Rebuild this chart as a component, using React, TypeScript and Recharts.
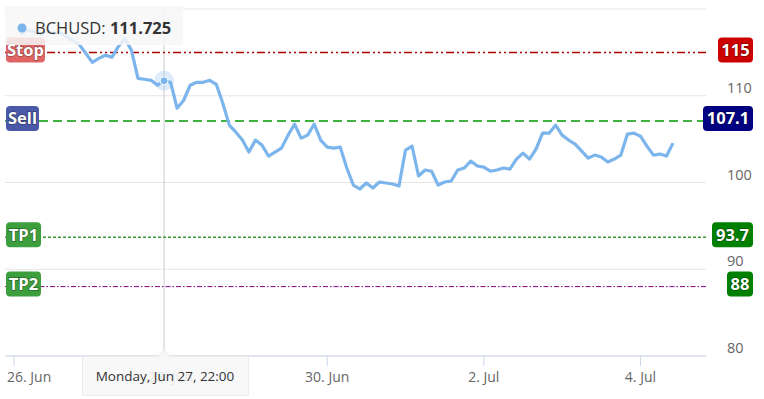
import React from "react";
import {
  LineChart,
  Line,
  XAxis,
  YAxis,
  CartesianGrid,
  ReferenceLine,
  ReferenceDot,
} from "recharts";

// hours since 26 Jun 00:00
const hours = [
  2, 4, 6, 8, 10, 12, 14, 16, 18, 20, 22, 24, 26, 28, 30, 32, 34, 36, 38, 40,
  42, 44, 46, 48, 50, 52, 54, 56, 58, 60, 62, 64, 66, 68, 70, 72, 74, 76, 78, 80,
  82, 84, 86, 88, 90, 92, 94, 96, 98, 100, 102, 104, 106, 108, 110, 112, 114, 116, 118, 120,
  122, 124, 126, 128, 130, 132, 134, 136, 138, 140, 142, 144, 146, 148, 150, 152, 154, 156, 158, 160,
  162, 164, 166, 168, 170, 172, 174, 176, 178, 180, 182, 184, 186, 188, 190, 192, 194, 196, 198, 200,
  202,
];

const prices = [
  117.07, 117.53, 117.41, 117.07, 117.41, 117.18, 117.3, 116.84, 116.38, 115.92,
  114.89, 113.85, 114.31, 114.66, 114.43, 115.69, 116.61, 115.23, 112.01, 111.9,
  111.78, 111.21, 111.725, 111.55, 108.56, 109.48, 111.21, 111.55, 111.55, 111.78,
  111.32, 109.14, 106.61, 105.8, 104.89, 103.51, 104.89, 104.31, 103.05, 103.51,
  103.97, 105.46, 106.72, 105.11, 105.46, 106.72, 104.89, 104.08, 103.97, 104.08,
  101.67, 99.71, 99.25, 99.94, 99.37, 100.06, 99.94, 99.83, 99.6, 103.74,
  104.2, 100.75, 101.44, 101.3, 99.71, 100.06, 100.17, 101.44, 101.67, 102.47,
  101.9, 101.78, 101.3, 101.44, 101.67, 101.55, 102.7, 103.39, 102.7, 103.85,
  105.69, 105.69, 106.61, 105.46, 104.89, 104.43, 103.62, 102.82, 103.16, 102.93,
  102.36, 102.7, 103.16, 105.57, 105.69, 105.34, 104.2, 103.16, 103.28, 103.05,
  104.54,
];

const xTicks = [0, 48, 96, 144, 192];
const xTickLabels = ["26. Jun", "28. Jun", "30. Jun", "2. Jul", "4. Jul"];
const yTicks = [80, 90, 100, 110, 120];

const levelNames = ["Stop", "Sell", "TP1", "TP2"];
const levelValues = [115, 107.1, 93.7, 88];

const seriesName = "BCHUSD";
const hoverHour = 46;
const hoverLabel = "Monday, Jun 27, 22:00";

const LEVEL_STYLE = [
  { line: "#aa0000", dash: "8 3 2 3 2 3", width: 1.5, left: "#e06666", right: "#cc0000", lw: 39, rw: 35 },
  { line: "#009900", dash: "9 5", width: 1.5, left: "#4a5aa8", right: "#000080", lw: 33, rw: 50 },
  { line: "#3a9a3a", dash: "3 2", width: 1.5, left: "#3d9e3d", right: "#008000", lw: 35, rw: 41 },
  { line: "#800080", dash: "5 2 1.5 2", width: 1, left: "#3d9e3d", right: "#008000", lw: 35, rw: 26 },
];

const FONT = "'Open Sans', 'DejaVu Sans', sans-serif";
const LINE_COLOR = "#7cb5ec";

const data = hours.map((t, i) => ({ t, price: prices[i] }));
const hoverPrice = prices[hours.indexOf(hoverHour)];

function LevelBadges(props: any) {
  const { viewBox, idx } = props;
  if (!viewBox) return null;
  const s = LEVEL_STYLE[idx];
  const y = viewBox.y;
  const left = viewBox.x + 1;
  const rightEdge = viewBox.x + viewBox.width + 47;
  const h = 25;
  const top = y - 15;
  const textStyle = {
    fontFamily: FONT,
    fontSize: 16.5,
    fontWeight: 700,
    fill: "#fff",
    stroke: "rgba(0,0,0,0.35)",
    strokeWidth: 1.5,
    paintOrder: "stroke" as const,
  };
  return (
    <g>
      <rect x={left} y={top} width={s.lw} height={h} rx={4} fill={s.left} />
      <text x={left + s.lw / 2} y={top + h / 2 + 6} textAnchor="middle" style={textStyle}>
        {levelNames[idx]}
      </text>
      <rect x={rightEdge - s.rw} y={top} width={s.rw} height={h} rx={4} fill={s.right} />
      <text x={rightEdge - s.rw / 2} y={top + h / 2 + 6} textAnchor="middle" style={textStyle}>
        {String(levelValues[idx])}
      </text>
    </g>
  );
}

function XTick(props: any) {
  const { x, y, payload, index } = props;
  const i = xTicks.indexOf(payload.value);
  const first = index === 0;
  return (
    <text
      x={first ? x - 7 : x}
      y={y + 14}
      textAnchor={first ? "start" : "middle"}
      fill="#666"
      style={{ fontFamily: FONT, fontSize: 14 }}
    >
      {xTickLabels[i]}
    </text>
  );
}

function YTick(props: any) {
  const { x, y, payload } = props;
  if (payload.value > 110) return null;
  return (
    <text x={x + 13} y={y - 3} textAnchor="start" fill="#666" style={{ fontFamily: FONT, fontSize: 14.5 }}>
      {payload.value}
    </text>
  );
}

export default function App() {
  return (
    <div style={{ position: "absolute", left: 0, top: 0, width: 764, height: 399, background: "#fff", fontFamily: FONT }}>
      <LineChart width={764} height={399} data={data} margin={{ top: 9, right: 0, bottom: 0, left: 5 }}>
        <CartesianGrid stroke="#e6e6e6" vertical={false} />
        <XAxis
          dataKey="t"
          type="number"
          domain={[-2.76, 212.1]}
          ticks={xTicks}
          height={43}
          axisLine={{ stroke: "#ccd6eb" }}
          tickLine={{ stroke: "#ccd6eb" }}
          tickSize={10}
          tick={<XTick />}
          interval={0}
        />
        <YAxis
          orientation="right"
          domain={[80, 120]}
          ticks={yTicks}
          width={58}
          axisLine={false}
          tickLine={false}
          tick={<YTick />}
          interval={0}
        />
        <ReferenceLine x={hoverHour} stroke="#cccccc" strokeWidth={1} />
        {levelValues.map((v, i) => (
          <ReferenceLine
            key={levelNames[i]}
            y={v}
            stroke={LEVEL_STYLE[i].line}
            strokeWidth={LEVEL_STYLE[i].width}
            strokeDasharray={LEVEL_STYLE[i].dash}
            label={<LevelBadges idx={i} />}
          />
        ))}
        <Line
          type="linear"
          dataKey="price"
          stroke={LINE_COLOR}
          strokeWidth={3.2}
          strokeLinejoin="round"
          dot={false}
          isAnimationActive={false}
        />
        <ReferenceDot x={hoverHour} y={hoverPrice} r={10} fill={LINE_COLOR} fillOpacity={0.25} stroke="none" />
        <ReferenceDot x={hoverHour} y={hoverPrice} r={4} fill={LINE_COLOR} stroke="#fff" strokeWidth={1} />
      </LineChart>

      {/* legend */}
      <div
        style={{
          position: "absolute",
          left: 5,
          top: 6,
          width: 178,
          height: 39,
          background: "rgba(247,247,247,0.85)",
        }}
      >
        <svg width={178} height={39} style={{ position: "absolute", left: 0, top: 0 }}>
          <circle cx={17} cy={22} r={4.5} fill={LINE_COLOR} />
          <text x={30} y={28} fill="#333" style={{ fontFamily: FONT, fontSize: 16.5 }}>
            {seriesName}:{" "}
            <tspan fontWeight={700}>{hoverPrice.toFixed(3)}</tspan>
          </text>
        </svg>
      </div>

      {/* crosshair label */}
      <svg width={172} height={52} style={{ position: "absolute", left: 80, top: 346 }}>
        <path
          d="M2.5 10.5 L78 10.5 L84 3.5 L90 10.5 L168.5 10.5 L168.5 49.5 L2.5 49.5 Z"
          fill="rgba(247,247,247,0.88)"
          stroke="#ececec"
        />
        <text x={85} y={35} textAnchor="middle" fill="#333" style={{ fontFamily: FONT, fontSize: 13.5 }}>
          {hoverLabel}
        </text>
      </svg>
    </div>
  );
}
